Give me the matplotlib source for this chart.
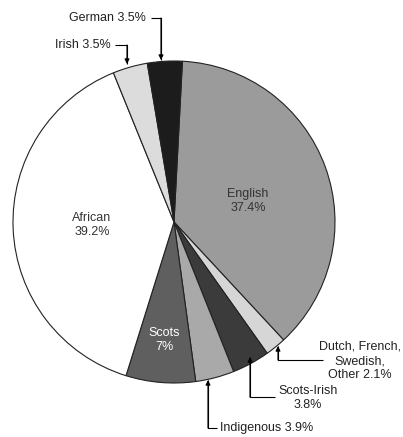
import matplotlib.pyplot as plt

plt.rcParams['font.family'] = ['Liberation Sans', 'DejaVu Sans']

# wedges, clockwise from the top
groups = ['English', 'Dutch, French,\nSwedish,\nOther', 'Scots-Irish', 'Indigenous',
          'Scots', 'African', 'Irish', 'German']
shares = [37.4, 2.1, 3.8, 3.9, 7.0, 39.2, 3.5, 3.5]
shades = ['#9b9b9b', '#d6d6d6', '#3b3b3b', '#a9a9a9', '#5f5f5f', '#ffffff', '#dcdcdc', '#1c1c1c']

W, H = 403, 437


def P(x, y):
    # pixel position (top-left origin) -> data coords
    return (x, H - y)


fig = plt.figure(figsize=(W / 100, H / 100), dpi=100)
ax = fig.add_axes([0, 0, 1, 1])
ax.set_xlim(0, W)
ax.set_ylim(0, H)
ax.axis('off')

wedges, _ = ax.pie(shares, colors=shades, startangle=87, counterclock=False,
                   center=P(174, 222), radius=161, frame=True,
                   wedgeprops=dict(edgecolor='#222222', linewidth=0.8))
ax.set_xlim(0, W)
ax.set_ylim(0, H)
ax.axis('off')

# labels inside the pie
ax.text(*P(248, 201), 'English\n37.4%', ha='center', va='center', fontsize=9,
        color='#333333', linespacing=1.15)
ax.text(*P(92, 225), 'African\n39.2%', ha='center', va='center', fontsize=9,
        color='#333333', linespacing=1.15)
ax.text(*P(164, 340), 'Scots\n7%', ha='center', va='center', fontsize=9,
        color='white', linespacing=1.15)


def callout(path, text, tx, ty, ha='left', va='center'):
    pts = [P(x, y) for x, y in path]
    xs = [p[0] for p in pts]
    ys = [p[1] for p in pts]
    ax.plot(xs, ys, color='black', lw=0.8, solid_capstyle='butt')
    ax.annotate('', xy=pts[-1], xytext=pts[-2],
                arrowprops=dict(arrowstyle='-|>', color='black', lw=0.8,
                                mutation_scale=7, shrinkA=0, shrinkB=0))
    ax.text(*P(tx, ty), text, ha=ha, va=va, fontsize=9, color='#222222',
            linespacing=1.25)


callout([(151, 18), (161, 18), (161, 60)], 'German 3.5%', 146, 18, ha='right')
callout([(115, 45), (127, 45), (127, 64)], 'Irish 3.5%', 111, 45, ha='right')
callout([(323, 360), (278, 360), (278, 346)], 'Dutch, French,\nSwedish,\nOther 2.1%',
        360, 361, ha='center')
callout([(275, 397), (250, 397), (250, 357)], 'Scots-Irish\n3.8%', 308, 398, ha='center')
callout([(217, 428), (208, 428), (208, 380)], 'Indigenous 3.9%', 220, 428)

fig.savefig('out.png', dpi=100)
